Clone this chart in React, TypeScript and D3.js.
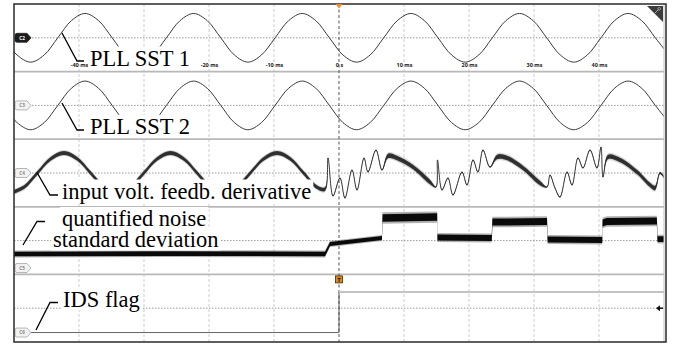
import React, { useEffect, useRef } from "react";
import * as d3 from "d3";

// time axis (ms); the -30 ms label sits under the "PLL SST 1" note
const gridTimes = [-40, -30, -20, -10, 0, 10, 20, 30, 40];
const tickValues = [-40, -20, -10, 0, 10, 20, 30, 40];
const tickLabels = ["-40 ms", "-20 ms", "-10 ms", "0 s", "10 ms", "20 ms", "30 ms", "40 ms"];

const channels = ["C2", "C3", "C4", "C5", "C6"];
// ground marker offset from the panel centre, in divisions
const channelGround = [0, 0, 0, -2.03, -1.8];

// C2 / C3 : PLL SST 1 and 2
const sstTime = [
  -51.61, -49.53, -47.44, -45.35, -43.26, -41.17, -39.08, -36.99, -34.9, -32.81,
  -30.72, -28.64, -26.55, -24.46, -22.37, -20.28, -18.19, -16.1, -14.01, -11.92,
  -9.83, -7.75, -5.66, -3.57, -1.48, 0.61, 2.7, 4.79, 6.88, 8.97,
  11.06, 13.14, 15.23, 17.32, 19.41, 21.5, 23.59, 25.68, 27.77, 29.86,
  31.95, 34.04, 36.12, 38.21, 40.3, 42.39, 44.48, 46.57, 48.66, 50.75,
];
const sst1Value = [
  0, -1.27, -1.8, -1.27, 0, 1.27, 1.8, 1.27,
  0, -1.27, -1.8, -1.27, 0, 1.27, 1.8, 1.27,
  0, -1.27, -1.8, -1.27, 0, 1.27, 1.8, 1.27,
  0, -1.27, -1.8, -1.27, 0, 1.27, 1.8, 1.27,
  0, -1.27, -1.8, -1.27, 0, 1.27, 1.8, 1.27,
  0, -1.27, -1.8, -1.27, 0, 1.27, 1.8, 1.27,
  0, -1.27,
];
const sst2Value = [
  0, -1.27, -1.8, -1.27, 0, 1.27, 1.8, 1.27,
  0, -1.27, -1.8, -1.27, 0, 1.27, 1.8, 1.27,
  0, -1.27, -1.8, -1.27, 0, 1.27, 1.8, 1.27,
  0, -1.27, -1.8, -1.27, 0, 1.27, 1.8, 1.27,
  0, -1.27, -1.8, -1.27, 0, 1.27, 1.8, 1.27,
  0, -1.27, -1.8, -1.27, 0, 1.27, 1.8, 1.27,
  0, -1.27,
];

// C4 : input voltage feedback derivative
const derivTime = [
  -50.5, -48.45, -46.41, -44.36, -42.31, -40.26, -38.21, -36.17, -34.12, -32.07,
  -30.02, -27.97, -25.93, -23.88, -21.83, -19.78, -17.73, -15.69, -13.64, -11.59,
  -9.54, -7.49, -5.45, -3.4, -2.15,
  -1.69, -0.92, 0.15, 0.92, 2.0, 2.77, 3.85, 4.46, 5.69, 6.62,
  7.54, 8.92, 11.38, 14.0, 14.92, 15.15, 15.85, 16.77, 17.54, 18.92,
  19.69, 20.62, 21.38, 22.15, 23.23, 24.31, 25.85, 28.31, 30.92, 32.0,
  32.46, 33.23, 34.0, 35.08, 35.85, 36.77, 37.54, 38.62, 39.69, 40.31,
  40.62, 41.38, 43.23, 45.85, 47.85, 48.62, 49.38, 50.0,
];
const derivValue = [
  -1.48, -1.05, 0, 1.05, 1.48, 1.05, 0, -1.05, -1.48, -1.05,
  0, 1.05, 1.48, 1.05, 0, -1.05, -1.48, -1.05, 0, 1.05,
  1.48, 1.05, 0, -1.05, -1.2,
  1.11, -1.7, -0.37, -1.85, 0.22, -1.26, 1.11, 0.07, 1.7, 0.22,
  1.26, 1.11, 0.44, -0.67, -1.04, 0.96, -1.26, -0.37, -1.63, 0.07,
  -0.89, 0.96, 0.07, 1.7, 0.44, 1.18, 1.11, 0.37, -0.74, -1.04,
  -0.15, -1.11, -1.78, 0.07, -0.89, 1.11, 0.37, 1.7, 0.37, 1.92,
  -0.3, 1.18, 0.96, 0.07, -0.89, -1.11, 0.0, -0.3,
];
// noise half width (div) from each start time on
const derivNoiseFrom = [-60, -1.9, 7.2, 14.9, 23.8, 32.0, 40.9, 49];
const derivNoiseHalf = [0.14, 0.04, 0.17, 0.04, 0.17, 0.04, 0.17, 0.08];

// C5 : quantified noise standard deviation
const stdTime = [-50, -26, -2.15, -1.38, 6.6, 6.7, 15.1, 15.15, 23.5, 23.6, 32.0, 32.1, 40.5, 40.55, 41.2, 48.9, 49.0, 50];
const stdValue = [1.04, 1.07, 1.04, 1.78, 2.22, 3.7, 3.77, 2.26, 2.22, 3.4, 3.44, 2.11, 2.07, 3.33, 3.44, 3.48, 2.14, 2.14];
const stdSpread = [0.17, 0.17, 0.17, 0.15, 0.15, 0.28, 0.28, 0.22, 0.22, 0.26, 0.26, 0.22, 0.22, 0.26, 0.26, 0.26, 0.22, 0.22];

// C6 : IDS flag
const flagTime = [-50, 0, 50];
const flagValue = [0, 1, 1];
const flagGain = 3; // div per level

const labels = [
  { lines: ["PLL SST 1"], x: [90], y: [65.5], leader: [[62, 33], [77, 61], [84, 61]] },
  { lines: ["PLL SST 2"], x: [90], y: [134], leader: [[62, 103], [77, 130], [84, 130]] },
  { lines: ["input volt. feedb. derivative"], x: [62], y: [198.5], leader: [[37, 172.5], [50, 195], [58, 195]] },
  { lines: ["quantified noise", "standard deviation"], x: [62, 53], y: [226, 246.5], leader: [[23, 245], [37, 221.5], [45, 221.5]] },
  { lines: ["IDS flag"], x: [63], y: [306.5], leader: [[36, 330], [50, 302.5], [58, 302.5]] },
];

const serif = '"Liberation Serif", "Times New Roman", Tinos, "DejaVu Serif", serif';
const sans = '"Open Sans", "DejaVu Sans", sans-serif';

function App() {
  const ref = useRef<SVGSVGElement>(null);

  useEffect(() => {
    const width = 676;
    const height = 345;
    const margin = { top: 4, right: 12, bottom: 3, left: 14 };

    const svg = d3.select(ref.current);
    svg.selectAll("*").remove();
    svg.attr("width", width).attr("height", height);
    svg.append("rect").attr("width", width).attr("height", height).attr("fill", "#fff");

    const x = d3.scaleLinear().domain([-50, 50]).range([margin.left, width - margin.right]);
    const panel = d3.scaleBand().domain(channels).range([margin.top, height - margin.bottom]);
    const bw = panel.bandwidth();
    const yOf = (ch: string) => {
      const i = channels.indexOf(ch);
      const y0 = panel(ch) as number;
      return d3.scaleLinear().domain([-2.5 - channelGround[i], 2.5 - channelGround[i]]).range([y0 + bw, y0]);
    };
    const x0 = margin.left;
    const x1 = width - margin.right;
    const yTop = margin.top;
    const yBot = height - margin.bottom;

    // grid
    const grid = svg.append("g");
    grid.selectAll("line.v")
      .data(gridTimes.filter((t) => t !== 0))
      .join("line")
      .attr("x1", (d) => x(d)).attr("x2", (d) => x(d))
      .attr("y1", yTop).attr("y2", yBot)
      .attr("stroke", "#cdcdcd").attr("stroke-dasharray", "3,2");
    grid.selectAll("line.h")
      .data(channels)
      .join("line")
      .attr("x1", x0).attr("x2", x1)
      .attr("y1", (d) => (panel(d) as number) + bw / 2)
      .attr("y2", (d) => (panel(d) as number) + bw / 2)
      .attr("stroke", "#9c9c9c").attr("stroke-dasharray", "1.5,1.5");
    grid.selectAll("line.sep")
      .data(channels.slice(1))
      .join("line")
      .attr("x1", x0).attr("x2", x1)
      .attr("y1", (d) => panel(d) as number).attr("y2", (d) => panel(d) as number)
      .attr("stroke", "#b8b8b8").attr("stroke-width", 1.8);
    grid.append("line")
      .attr("x1", x(0)).attr("x2", x(0)).attr("y1", yTop).attr("y2", yBot)
      .attr("stroke", "#555").attr("stroke-dasharray", "3,2.5");

    svg.append("clipPath").attr("id", "plot-clip")
      .append("rect").attr("x", x0).attr("y", yTop).attr("width", x1 - x0).attr("height", yBot - yTop);
    const traces = svg.append("g").attr("clip-path", "url(#plot-clip)");

    // PLL SST traces
    const sstIdx = d3.range(sstTime.length);
    [["C2", sst1Value], ["C3", sst2Value]].forEach(([ch, vals]) => {
      const y = yOf(ch as string);
      const v = vals as number[];
      traces.append("path")
        .attr("d", d3.line<number>().x((i) => x(sstTime[i])).y((i) => y(v[i])).curve(d3.curveCatmullRom)(sstIdx))
        .attr("fill", "none").attr("stroke", "#3a3a3a").attr("stroke-width", 1);
    });

    // derivative with noise band
    const yD = yOf("C4");
    const noiseAt = (t: number) => {
      let h = derivNoiseHalf[0];
      derivNoiseFrom.forEach((f, j) => { if (t >= f) h = derivNoiseHalf[j]; });
      return h;
    };
    const dIdx = d3.range(derivTime.length);
    const dArea = (k: number) => d3.area<number>()
      .x((i) => x(derivTime[i]))
      .y0((i) => yD(derivValue[i] - k * noiseAt(derivTime[i])))
      .y1((i) => yD(derivValue[i] + k * noiseAt(derivTime[i])))
      .curve(d3.curveCatmullRom)(dIdx);
    traces.append("path").attr("d", dArea(1.6)).attr("fill", "#999").attr("opacity", 0.4);
    traces.append("path").attr("d", dArea(1)).attr("fill", "#151515").attr("opacity", 0.85);
    traces.append("path")
      .attr("d", d3.line<number>().x((i) => x(derivTime[i])).y((i) => yD(derivValue[i])).curve(d3.curveCatmullRom)(dIdx))
      .attr("fill", "none").attr("stroke", "#2a2a2a").attr("stroke-width", 0.9);

    // standard deviation band
    const yS = yOf("C5");
    const sIdx = d3.range(stdTime.length);
    const sArea = (k: number) => d3.area<number>()
      .x((i) => x(stdTime[i]))
      .y0((i) => yS(stdValue[i] - k * stdSpread[i]))
      .y1((i) => yS(stdValue[i] + k * stdSpread[i]))(sIdx);
    traces.append("path").attr("d", sArea(1.5)).attr("fill", "#666").attr("opacity", 0.5);
    traces.append("path").attr("d", sArea(1)).attr("fill", "#0a0a0a");

    // IDS flag
    const yF = yOf("C6");
    for (let i = 0; i < flagTime.length - 1; i++) {
      const high = flagValue[i] > 0;
      traces.append("line")
        .attr("x1", x(flagTime[i])).attr("x2", x(flagTime[i + 1]))
        .attr("y1", yF(flagValue[i] * flagGain)).attr("y2", yF(flagValue[i] * flagGain))
        .attr("stroke", high ? "#c4c4c4" : "#666").attr("stroke-width", high ? 2 : 1);
      if (flagValue[i + 1] !== flagValue[i]) {
        traces.append("line")
          .attr("x1", x(flagTime[i + 1])).attr("x2", x(flagTime[i + 1]))
          .attr("y1", yF(flagValue[i] * flagGain)).attr("y2", yF(flagValue[i + 1] * flagGain))
          .attr("stroke", "#555").attr("stroke-width", 1);
      }
    }

    // time axis labels in first panel
    const axis = svg.append("g")
      .attr("transform", `translate(0,${(panel("C2") as number) + bw - 8.5})`)
      .call(d3.axisBottom(x).tickValues(tickValues).tickSize(0).tickPadding(0)
        .tickFormat((_d, i) => tickLabels[i]));
    axis.select(".domain").remove();
    axis.selectAll("text")
      .style("font-family", sans)
      .attr("font-weight", "bold")
      .attr("font-size", 5.5)
      .attr("fill", "#222");

    // channel ground markers
    const markers = svg.append("g");
    channels.forEach((ch, i) => {
      const cy = yOf(ch)(0);
      const mx = 15;
      const dark = i === 0;
      markers.append("path")
        .attr("d", `M${mx + 2},${cy - 4.5} H${mx + 12} L${mx + 16},${cy} L${mx + 12},${cy + 4.5} H${mx + 2} Q${mx},${cy + 4.5} ${mx},${cy + 2.5} V${cy - 2.5} Q${mx},${cy - 4.5} ${mx + 2},${cy - 4.5} Z`)
        .attr("fill", dark ? "#1c1c1c" : "#f2f2f2")
        .attr("stroke", dark ? "#1c1c1c" : "#9a9a9a")
        .attr("stroke-width", 0.7);
      markers.append("text")
        .attr("x", mx + 7).attr("y", cy + 1.7)
        .attr("text-anchor", "middle")
        .style("font-family", sans)
        .attr("font-weight", "bold")
        .attr("font-size", 4.6)
        .attr("fill", dark ? "#fff" : "#888")
        .text(ch);
    });

    // annotations
    const boxes = svg.append("g");
    const texts = svg.append("g");
    const leaders = svg.append("g");
    labels.forEach((lab) => {
      lab.lines.forEach((line, j) => {
        const t = texts.append("text")
          .attr("x", lab.x[j]).attr("y", lab.y[j])
          .style("font-family", serif)
          .style("font-size", "22.5px")
          .attr("fill", "#000")
          .text(line);
        const bb = (t.node() as SVGTextElement).getBBox();
        boxes.append("rect")
          .attr("x", bb.x - 2).attr("y", bb.y + 1)
          .attr("width", bb.width + 4).attr("height", bb.height - 2)
          .attr("fill", "#fff");
      });
      leaders.append("path")
        .attr("d", d3.line()(lab.leader as [number, number][]))
        .attr("fill", "none").attr("stroke", "#000").attr("stroke-width", 1.3);
    });

    // frame
    const frame = svg.append("g");
    frame.append("line").attr("x1", x1).attr("x2", x1).attr("y1", yTop).attr("y2", yBot).attr("stroke", "#c0c0c0");
    frame.append("path")
      .attr("d", `M${x0},${yTop} H${x1 + 2} V${yBot} H${x0} Z`)
      .attr("fill", "none").attr("stroke", "#2a2a2a").attr("stroke-width", 1.5);

    // trigger markers
    const xt = x(0);
    frame.append("path")
      .attr("d", `M${xt - 3.5},${yTop} L${xt + 3.5},${yTop} L${xt},${yTop + 4.5} Z`)
      .attr("fill", "#f28c28");
    const ty = (panel("C6") as number) + 1.5;
    frame.append("rect")
      .attr("x", xt - 3.5).attr("y", ty).attr("width", 7).attr("height", 7)
      .attr("fill", "#e8891c").attr("stroke", "#3a2a10").attr("stroke-width", 0.8);
    frame.append("text")
      .attr("x", xt).attr("y", ty + 5.6)
      .attr("text-anchor", "middle")
      .style("font-family", sans)
      .attr("font-weight", "bold").attr("font-size", 6)
      .attr("fill", "#111").text("T");
    const ay = (panel("C6") as number) + bw / 2;
    frame.append("path")
      .attr("d", `M${x1 - 8},${ay} L${x1 - 4},${ay - 3} L${x1 - 4},${ay + 3} Z`)
      .attr("fill", "#111");
    frame.append("line")
      .attr("x1", x1 - 5).attr("x2", x1 - 1).attr("y1", ay).attr("y2", ay)
      .attr("stroke", "#111").attr("stroke-width", 1.5);

    // corner icon
    frame.append("path")
      .attr("d", `M${x1 - 17},${yTop + 2} L${x1 - 1},${yTop + 2} L${x1 - 1},${yTop + 18} Z`)
      .attr("fill", "#3c3c3c");
    frame.append("line")
      .attr("x1", x1 - 10).attr("y1", yTop + 10).attr("x2", x1 - 5.5).attr("y2", yTop + 5.5)
      .attr("stroke", "#aaa").attr("stroke-width", 1);
    frame.append("circle")
      .attr("cx", x1 - 4.8).attr("cy", yTop + 4.8).attr("r", 1.3)
      .attr("fill", "none").attr("stroke", "#aaa").attr("stroke-width", 0.8);
  }, []);

  return (
    <svg ref={ref} style={{ position: "absolute", left: 0, top: 0, display: "block" }}></svg>
  );
}

export default App;
